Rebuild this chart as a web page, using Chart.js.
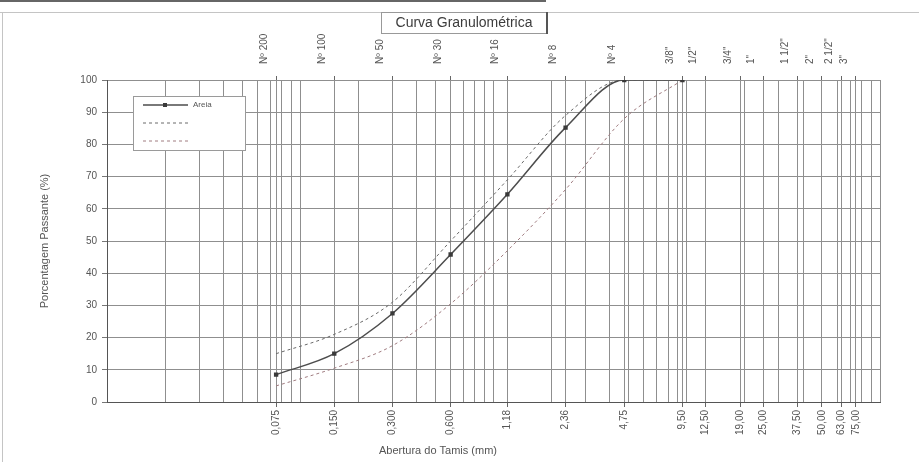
<!DOCTYPE html>
<html>
<head>
<meta charset="utf-8">
<title>Curva Granulométrica</title>
<script src="https://cdn.jsdelivr.net/npm/chart.js@4.4.1/dist/chart.umd.min.js"></script>
<style>
  body { margin: 0; background: #fff; }
  #wrap { width: 919px; height: 462px; }
</style>
</head>
<body>
<div id="wrap"><canvas id="granulometria" width="919" height="462"></canvas></div>
<script>
// sieve openings (mm), bottom labels and sieve names for the top axis
const sieveOpenings = [0.075, 0.15, 0.3, 0.6, 1.18, 2.36, 4.75, 9.5, 12.5, 19, 25, 37.5, 50, 63, 75];
const openingLabels = ["0,075", "0,150", "0,300", "0,600", "1,18", "2,36", "4,75", "9,50", "12,50", "19,00", "25,00", "37,50", "50,00", "63,00", "75,00"];
const sieveNames = ["Nº 200", "Nº 100", "Nº 50", "Nº 30", "Nº 16", "Nº 8", "Nº 4", "3/8\"", "1/2\"", "3/4\"", "1\"", "1 1/2\"", "2\"", "2 1/2\"", "3\""];

// sieves used for the sample and the two limit curves
const testSieves = [0.075, 0.15, 0.3, 0.6, 1.18, 2.36, 4.75, 9.5];
const samplePassing = [8.5, 15, 27.5, 45.8, 64.5, 85.2, 100, 100];
const upperLimit = [15, 21, 31, 50, 69, 89, 100, 100];
const lowerLimit = [5, 10.5, 17.5, 30.5, 47, 66, 88, 100];

const legendLabels = ["Areia", "", ""];
const yTicks = [0, 10, 20, 30, 40, 50, 60, 70, 80, 90, 100];

// log grid: 1..9 in every decade from 0.01 to 100
const gridValues = [];
[0.01, 0.1, 1, 10].forEach((d) => {
  for (let m = 1; m < 10; m++) gridValues.push(+(m * d).toPrecision(3));
});
gridValues.push(100);

const isSieve = (v) => sieveOpenings.some((s) => Math.abs(s - v) / s < 1e-6);
const bottomTicks = [...new Set([...gridValues, ...sieveOpenings])].sort((a, b) => a - b);

const toPoints = (values) => testSieves.map((x, i) => ({ x: x, y: values[i] }));

const labelFont = { family: "'Liberation Sans', Arial, sans-serif", size: 10 };

// frame, title box, legend and x axis title
const decorations = {
  id: "decorations",
  beforeDraw(chart) {
    const ctx = chart.ctx;
    ctx.save();
    ctx.fillStyle = "#fff";
    ctx.fillRect(0, 0, chart.width, chart.height);
    ctx.fillStyle = "#666";
    ctx.fillRect(0, 0, 546, 2);
    ctx.strokeStyle = "#c4c4c4";
    ctx.lineWidth = 1;
    ctx.beginPath();
    ctx.moveTo(0, 12.5); ctx.lineTo(919, 12.5);
    ctx.moveTo(2.5, 12); ctx.lineTo(2.5, 462);
    ctx.stroke();
    ctx.restore();
  },
  afterDraw(chart) {
    const ctx = chart.ctx;
    ctx.save();

    // title box
    ctx.fillStyle = "#fff";
    ctx.fillRect(381, 13, 166, 20);
    ctx.strokeStyle = "#999";
    ctx.lineWidth = 1;
    ctx.strokeRect(381.5, 12.5, 166, 21);
    ctx.fillStyle = "#555";
    ctx.fillRect(546, 12, 2, 22);
    ctx.fillStyle = "#3c3c3c";
    ctx.font = "14px 'Liberation Sans', Arial, sans-serif";
    ctx.textAlign = "center";
    ctx.textBaseline = "middle";
    ctx.fillText("Curva Granulométrica", 464, 23);

    // x axis title
    ctx.fillStyle = "#555";
    ctx.font = "11px 'Liberation Sans', Arial, sans-serif";
    ctx.fillText("Abertura do Tamis (mm)", 438, 451);

    // legend box
    const lx = 133, ly = 96, lw = 112, lh = 54;
    ctx.fillStyle = "#fff";
    ctx.fillRect(lx, ly, lw, lh);
    ctx.strokeStyle = "#9a9a9a";
    ctx.strokeRect(lx + 0.5, ly + 0.5, lw, lh);
    chart.data.datasets.forEach((ds, i) => {
      const y = ly + 9 + i * 18;
      ctx.strokeStyle = ds.borderColor;
      ctx.lineWidth = ds.borderWidth;
      ctx.setLineDash(ds.borderDash || []);
      ctx.beginPath();
      ctx.moveTo(lx + 10, y);
      ctx.lineTo(lx + 55, y);
      ctx.stroke();
      ctx.setLineDash([]);
      if (ds.pointRadius > 0) {
        ctx.fillStyle = ds.pointBackgroundColor;
        ctx.fillRect(lx + 32 - 2, y - 2, 4, 4);
      }
      if (ds.label) {
        ctx.fillStyle = "#555";
        ctx.font = "8px 'Liberation Sans', Arial, sans-serif";
        ctx.textAlign = "left";
        ctx.fillText(ds.label, lx + 60, y);
      }
    });
    ctx.restore();
  }
};

new Chart(document.getElementById("granulometria"), {
  type: "line",
  data: {
    datasets: [
      {
        label: legendLabels[0],
        data: toPoints(samplePassing),
        borderColor: "#4d4d4d",
        borderWidth: 1.5,
        pointStyle: "rect",
        pointRadius: 2,
        pointBackgroundColor: "#3a3a3a",
        pointBorderColor: "#3a3a3a",
        cubicInterpolationMode: "monotone",
        xAxisID: "x",
        yAxisID: "y",
      },
      {
        label: legendLabels[1],
        data: toPoints(upperLimit),
        borderColor: "#6a6a6a",
        borderWidth: 1,
        borderDash: [3, 3],
        pointRadius: 0,
        cubicInterpolationMode: "monotone",
        xAxisID: "x",
        yAxisID: "y",
      },
      {
        label: legendLabels[2],
        data: toPoints(lowerLimit),
        borderColor: "#a07c80",
        borderWidth: 1,
        borderDash: [3, 3],
        pointRadius: 0,
        cubicInterpolationMode: "monotone",
        xAxisID: "x",
        yAxisID: "y",
      },
    ],
  },
  options: {
    responsive: false,
    animation: false,
    devicePixelRatio: 1,
    layout: { padding: { left: 0, right: 39, top: 0, bottom: 0 } },
    plugins: { legend: { display: false }, tooltip: { enabled: false } },
    scales: {
      x: {
        type: "logarithmic",
        position: "bottom",
        min: 0.01,
        max: 100,
        afterBuildTicks: (s) => { s.ticks = bottomTicks.map((v) => ({ value: v })); },
        afterFit: (s) => { s.height = 60; },
        grid: {
          color: "#8f8f8f",
          lineWidth: 1,
          tickLength: 5,
          tickColor: (c) => (c.tick && isSieve(c.tick.value) ? "#666" : "rgba(0,0,0,0)"),
        },
        border: { color: "#555" },
        ticks: {
          autoSkip: false,
          minRotation: 90,
          maxRotation: 90,
          padding: 3,
          color: "#555",
          font: labelFont,
          callback: (v) => {
            const i = sieveOpenings.findIndex((s) => Math.abs(s - v) / s < 1e-6);
            return i >= 0 ? openingLabels[i] : "";
          },
        },
      },
      xTop: {
        type: "logarithmic",
        position: "top",
        min: 0.01,
        max: 100,
        afterBuildTicks: (s) => { s.ticks = sieveOpenings.map((v) => ({ value: v })); },
        afterFit: (s) => { s.height = 80; },
        grid: { drawOnChartArea: false, tickLength: 4, tickColor: "#666" },
        border: { display: false },
        ticks: {
          autoSkip: false,
          minRotation: 90,
          maxRotation: 90,
          padding: 12,
          color: "#555",
          font: labelFont,
          callback: (v) => {
            const i = sieveOpenings.findIndex((s) => Math.abs(s - v) / s < 1e-6);
            return i >= 0 ? sieveNames[i] : "";
          },
        },
      },
      y: {
        min: 0,
        max: 100,
        afterBuildTicks: (s) => { s.ticks = yTicks.map((v) => ({ value: v })); },
        afterFit: (s) => { s.width = 107; },
        grid: { color: "#8f8f8f", tickLength: 5, tickColor: "#777" },
        border: { color: "#555" },
        ticks: { padding: 5, color: "#555", font: labelFont },
        title: {
          display: true,
          text: "Porcentagem Passante (%)",
          color: "#555",
          font: { family: "'Liberation Sans', Arial, sans-serif", size: 11 },
          padding: { top: 38, bottom: 0 },
        },
      },
    },
  },
  plugins: [decorations],
});
</script>
</body>
</html>
